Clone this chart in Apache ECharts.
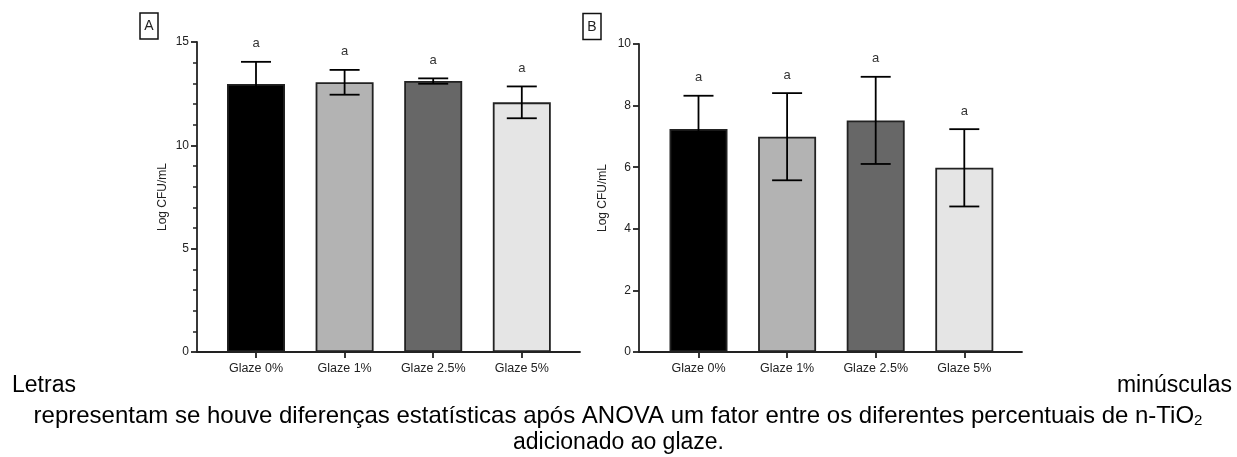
<!DOCTYPE html>
<html>
<head>
<meta charset="utf-8">
<script src="https://cdn.jsdelivr.net/npm/echarts@6/dist/echarts.min.js"></script>
<style>
html,body{margin:0;padding:0;background:#fff;}
#chart{width:1237px;height:457px;}
</style>
</head>
<body>
<div id="chart"></div>
<script>
// ---- data ----
var categories = ['Glaze 0%', 'Glaze 1%', 'Glaze 2.5%', 'Glaze 5%'];
var barColors = ['#000000', '#b3b3b3', '#676767', '#e5e5e5'];
var meansA = [12.97, 13.05, 13.11, 12.08];
var sdA = [1.07, 0.6, 0.13, 0.77];
var lettersA = ['a', 'a', 'a', 'a'];
var meansB = [7.24, 6.99, 7.52, 5.98];
var sdB = [1.08, 1.415, 1.415, 1.255];
var lettersB = ['a', 'a', 'a', 'a'];
var yTicksA = {min: 0, max: 15, interval: 5};
var yTicksB = {min: 0, max: 10, interval: 2};
var yName = 'Log CFU/mL';
var panelLabels = ['A', 'B'];
var captionLine1Left = 'Letras';
var captionLine1Right = 'minúsculas';
var captionLine2 = 'representam se houve diferenças estatísticas após ANOVA um fator entre os diferentes percentuais de n-TiO';
var captionLine2Sub = '2';
var captionLine3 = 'adicionado ao glaze.';

var FONT = 'Liberation Sans, Arial, sans-serif';
var chart = echarts.init(document.getElementById('chart'));

function panel(idx, frameLeft, barLeft, top, means, sd, letters, yt, minor, nameGap) {
  var gFrame = idx * 2, gBar = idx * 2 + 1;
  var grids = [
    {left: frameLeft, top: top, width: 383, height: 352 - top},
    {left: barLeft, top: top, width: 354.4, height: 352 - top}
  ];
  var xAxes = [
    {gridIndex: gFrame, type: 'value', min: 0, max: 1,
      axisLine: {show: true, lineStyle: {color: '#222', width: 1.8}},
      axisTick: {show: false}, axisLabel: {show: false}, splitLine: {show: false}},
    {gridIndex: gBar, type: 'category', data: categories,
      axisLine: {show: false},
      axisTick: {show: true, alignWithLabel: true, length: 6, lineStyle: {color: '#222', width: 1.8}},
      axisLabel: {color: '#222', fontFamily: FONT, fontSize: 12.5, margin: 10},
      splitLine: {show: false}}
  ];
  var yAxes = [
    {gridIndex: gFrame, type: 'value', min: yt.min, max: yt.max, interval: yt.interval,
      name: yName, nameLocation: 'middle', nameGap: nameGap,
      nameTextStyle: {color: '#222', fontFamily: FONT, fontSize: 12},
      axisLine: {show: true, lineStyle: {color: '#222', width: 1.8}},
      axisTick: {show: true, length: 6, lineStyle: {color: '#222', width: 1.8}},
      minorTick: {show: minor, splitNumber: 5, length: 4, lineStyle: {color: '#222', width: 1.5}},
      axisLabel: {color: '#222', fontFamily: FONT, fontSize: 12, margin: 8},
      splitLine: {show: false}},
    {gridIndex: gBar, type: 'value', min: yt.min, max: yt.max, show: false}
  ];
  var xBar = idx * 2 + 1, yBar = idx * 2 + 1;
  var series = [
    {type: 'bar', xAxisIndex: xBar, yAxisIndex: yBar, barWidth: 58,
      data: means.map(function (v, i) {
        return {value: v, itemStyle: {color: barColors[i]}};
      }),
      itemStyle: {borderColor: '#222', borderWidth: 1.8},
      silent: true, animation: false},
    {type: 'custom', xAxisIndex: xBar, yAxisIndex: yBar, z: 5, silent: true, animation: false,
      data: means.map(function (v, i) { return [i, v - sd[i], v + sd[i]]; }),
      renderItem: function (params, api) {
        var i = api.value(0);
        var lo = api.coord([i, api.value(1)]);
        var hi = api.coord([i, api.value(2)]);
        var hw = 15;
        var st = {stroke: '#000', lineWidth: 1.8};
        return {type: 'group', children: [
          {type: 'line', shape: {x1: lo[0], y1: lo[1], x2: hi[0], y2: hi[1]}, style: st},
          {type: 'line', shape: {x1: hi[0] - hw, y1: hi[1], x2: hi[0] + hw, y2: hi[1]}, style: st},
          {type: 'line', shape: {x1: lo[0] - hw, y1: lo[1], x2: lo[0] + hw, y2: lo[1]}, style: st},
          {type: 'text', style: {x: hi[0], y: hi[1] - 18, text: letters[i], fill: '#333',
            font: '13px ' + FONT, textAlign: 'center', textVerticalAlign: 'middle'}}
        ]};
      }}
  ];
  return {grids: grids, xAxes: xAxes, yAxes: yAxes, series: series};
}

var pA = panel(0, 197, 211.7, 42, meansA, sdA, lettersA, yTicksA, true, 28);
var pB = panel(1, 639, 654.2, 44, meansB, sdB, lettersB, yTicksB, false, 30);

function boxLabel(x, y, t) {
  return {type: 'group', children: [
    {type: 'rect', shape: {x: x, y: y, width: 18, height: 26},
      style: {fill: 'none', stroke: '#111', lineWidth: 1.5}},
    {type: 'text', style: {x: x + 9, y: y + 13.5, text: t, fill: '#222',
      font: '14px ' + FONT, textAlign: 'center', textVerticalAlign: 'middle'}}
  ]};
}

var capFont = '23px ' + FONT;
var option = {
  backgroundColor: '#fff',
  animation: false,
  grid: pA.grids.concat(pB.grids),
  xAxis: pA.xAxes.concat(pB.xAxes),
  yAxis: pA.yAxes.concat(pB.yAxes),
  series: pA.series.concat(pB.series),
  graphic: [
    boxLabel(140, 13, panelLabels[0]),
    boxLabel(583, 13.5, panelLabels[1]),
    {type: 'text', style: {x: 12, y: 386, text: captionLine1Left, fill: '#000', font: capFont,
      textAlign: 'left', textVerticalAlign: 'middle'}},
    {type: 'text', style: {x: 1232, y: 386, text: captionLine1Right, fill: '#000', font: capFont,
      textAlign: 'right', textVerticalAlign: 'middle'}},
    {type: 'text', style: {x: 618, y: 416, fill: '#000',
      text: '{m|' + captionLine2 + '}{s|' + captionLine2Sub + '}',
      textAlign: 'center', textVerticalAlign: 'middle',
      rich: {
        m: {fontFamily: FONT, fontSize: 24, color: '#000', lineHeight: 26},
        s: {fontFamily: FONT, fontSize: 15, color: '#000', lineHeight: 26, padding: [10, 0, 0, 0]}
      }}},
    {type: 'text', style: {x: 618.5, y: 443, text: captionLine3, fill: '#000', font: capFont,
      textAlign: 'center', textVerticalAlign: 'middle'}}
  ]
};
chart.setOption(option);
</script>
</body>
</html>
